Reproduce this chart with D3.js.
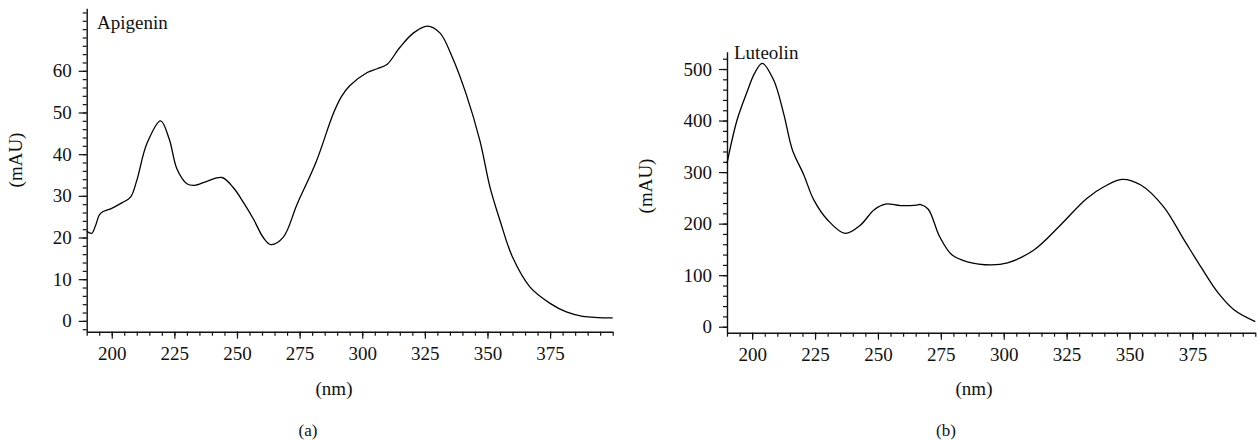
<!DOCTYPE html>
<html>
<head>
<meta charset="utf-8">
<script src="https://cdn.jsdelivr.net/npm/d3@7"></script>
<style>
  body { margin: 0; background: #fff; }
  svg { display: block; }
</style>
</head>
<body>
<div id="vis"></div>
<script>
var width = 1258;
var height = 440;
var serif = '"Liberation Serif", serif';

// Apigenin spectrum (a)
var apigeninNm = [190, 192, 193.5, 195.5, 200, 204, 207.5, 210, 214, 219.5, 223, 226, 230, 233, 238, 244, 248.5, 252.5, 256.5, 260.5, 263.5, 268.5, 274, 281.5, 288.5, 291.7, 295, 302, 306, 310, 315, 320.5, 326, 331, 336, 341.5, 347, 351, 355, 360, 367, 375, 381.5, 388, 400];
var apigeninMau = [21.5, 21.0, 22.8, 25.8, 27.0, 28.3, 29.7, 33.7, 42.5, 48.0, 43.5, 36.5, 32.9, 32.5, 33.5, 34.4, 32.0, 28.5, 24.5, 20.0, 18.3, 20.1, 28.0, 38.0, 49.8, 53.8, 56.4, 59.6, 60.5, 61.6, 65.6, 69.1, 70.7, 69.1, 63.2, 54.4, 43.2, 32.1, 24.1, 15.3, 8.1, 4.2, 2.15, 1.1, 0.7];

// Luteolin spectrum (b)
var luteolinNm = [190, 194, 198, 201, 204, 208.5, 212.5, 216, 220.5, 224.5, 230, 237, 243, 248.5, 253, 259, 265.5, 267, 270, 274.5, 279.5, 285.5, 295, 301.5, 312, 322.5, 333, 340, 347, 354.5, 363.5, 371.5, 378.5, 385, 391.5, 400];
var luteolinMau = [317, 401, 456, 492, 511, 479, 414, 343, 295, 246, 207, 181, 197, 227, 238, 235, 236, 237, 228, 175, 139, 126, 120, 124, 149, 197, 249, 272, 286, 275, 233, 170, 115, 67, 33, 10];

var xTicks = [200, 225, 250, 275, 300, 325, 350, 375];
var yTicksA = [0, 10, 20, 30, 40, 50, 60];
var yTicksB = [0, 100, 200, 300, 400, 500];

var svg = d3.select("#vis")
  .append("svg")
  .attr("width", width)
  .attr("height", height);

function panel(opt) {
  var x = d3.scaleLinear().domain([190, 400]).range(opt.xRange);
  var y = d3.scaleLinear().domain(opt.yDomain).range(opt.yRange);
  var g = svg.append("g");

  // minor x ticks
  g.append("g")
    .attr("transform", `translate(0,${opt.yRange[0]})`)
    .call(d3.axisBottom(x).tickValues(d3.range(190, 401, 5)).tickSize(4).tickSizeOuter(0).tickFormat(""))
    .call(s => s.select(".domain").remove());
  // major x ticks
  g.append("g")
    .attr("transform", `translate(0,${opt.yRange[0]})`)
    .call(d3.axisBottom(x).tickValues(xTicks).tickSize(7).tickSizeOuter(0).tickPadding(8));

  // minor y ticks
  g.append("g")
    .attr("transform", `translate(${opt.xRange[0]},0)`)
    .call(d3.axisLeft(y).tickValues(d3.range(opt.minorStart, opt.yDomain[1], opt.minorStep)).tickSize(4).tickSizeOuter(0).tickFormat(""))
    .call(s => s.select(".domain").remove());
  // major y ticks
  g.append("g")
    .attr("transform", `translate(${opt.xRange[0]},0)`)
    .call(d3.axisLeft(y).tickValues(opt.yTicks).tickSize(8).tickSizeOuter(0).tickPadding(7));

  g.selectAll(".domain").attr("stroke", "#111").attr("stroke-width", 1.4);
  g.selectAll(".tick line").attr("stroke", "#111").attr("stroke-width", 1.2);
  g.selectAll(".tick text")
    .style("font-family", serif)
    .style("font-size", "19px")
    .attr("fill", "#111");

  g.append("path")
    .datum(d3.zip(opt.nm, opt.mau))
    .attr("fill", "none")
    .attr("stroke", "#000")
    .attr("stroke-width", 1.3)
    .attr("d", d3.line().x(d => x(d[0])).y(d => y(d[1])).curve(d3.curveCatmullRom.alpha(0.5)));

  g.append("text")
    .attr("x", opt.titlePos[0])
    .attr("y", opt.titlePos[1])
    .style("font-family", serif)
    .style("font-size", "19px")
    .attr("fill", "#111")
    .text(opt.title);

  g.append("text")
    .attr("transform", `translate(${opt.yLabelPos[0]},${opt.yLabelPos[1]}) rotate(-90)`)
    .attr("text-anchor", "middle")
    .style("font-family", serif)
    .style("font-size", "19px")
    .attr("fill", "#111")
    .text("(mAU)");

  g.append("text")
    .attr("x", opt.xLabelX)
    .attr("y", 395)
    .attr("text-anchor", "middle")
    .style("font-family", serif)
    .style("font-size", "19px")
    .attr("fill", "#111")
    .text("(nm)");

  g.append("text")
    .attr("x", opt.tagX)
    .attr("y", 436)
    .attr("text-anchor", "middle")
    .style("font-family", serif)
    .style("font-size", "17px")
    .attr("fill", "#111")
    .text(opt.tag);
}

panel({
  xRange: [86.7, 612.7],
  yDomain: [-2.6, 75],
  yRange: [331.7, 8.3],
  yTicks: yTicksA,
  minorStart: -2,
  minorStep: 2,
  nm: apigeninNm,
  mau: apigeninMau,
  title: "Apigenin",
  titlePos: [97, 29],
  yLabelPos: [22, 160],
  xLabelX: 334,
  tag: "(a)",
  tagX: 308
});

panel({
  xRange: [727, 1255.3],
  yDomain: [-11.6, 533.6],
  yRange: [332.7, 51.7],
  yTicks: yTicksB,
  minorStart: 0,
  minorStep: 20,
  nm: luteolinNm,
  mau: luteolinMau,
  title: "Luteolin",
  titlePos: [734, 59],
  yLabelPos: [652, 186],
  xLabelX: 974,
  tag: "(b)",
  tagX: 946
});
</script>
</body>
</html>
